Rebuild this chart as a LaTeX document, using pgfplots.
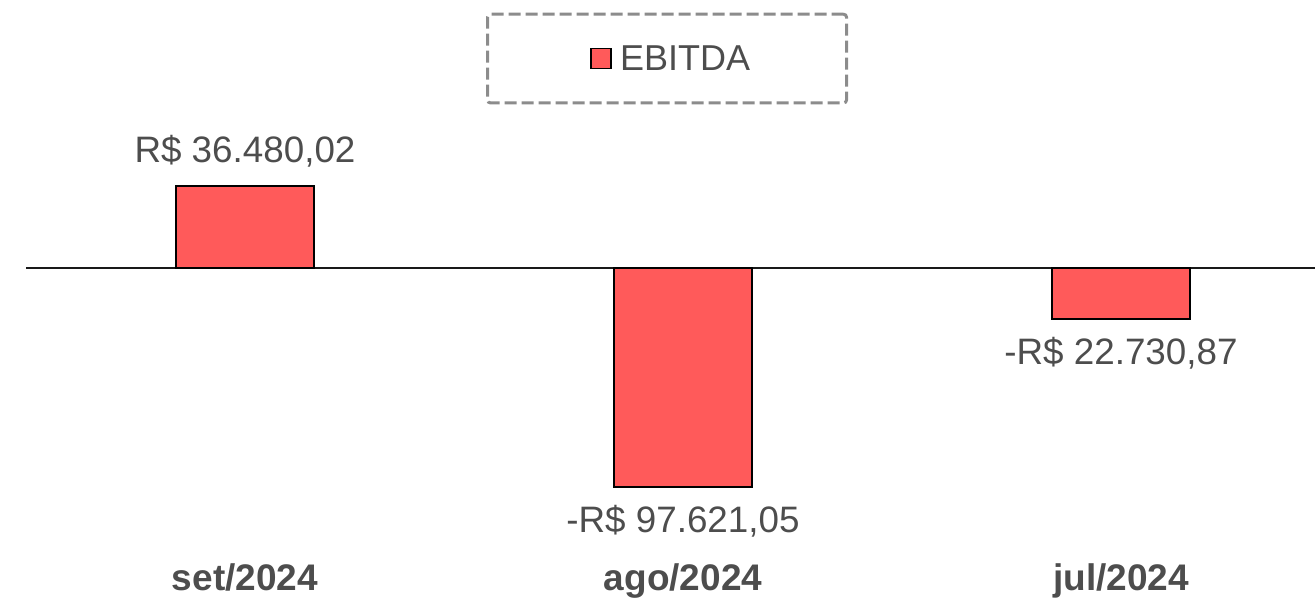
\documentclass[border=0pt]{standalone}
\usepackage{pgfplots}
\usepackage{pgfplotstable}
\pgfplotsset{compat=1.18}
\usepackage{fontspec}
\setmainfont{Liberation Sans}
\definecolor{barred}{HTML}{FF5A5A}
\definecolor{txt}{HTML}{4D4D4D}
\definecolor{lgd}{HTML}{8C8C8C}

\pgfplotstableread{
x y label
0 36480.02 {R\$ 36.480,02}
1 -97621.05 {-R\$ 97.621,05}
2 -22730.87 {-R\$ 22.730,87}
}\datatable

\begin{document}
\begin{tikzpicture}[x=1bp,y=1bp]
\useasboundingbox (0,0) rectangle (1315,598);
\begin{axis}[
  at={(26bp,0bp)}, anchor=south west,
  scale only axis, width=1289bp, height=598bp,
  xmin=-0.5, xmax=2.443, ymin=-147180, ymax=119528,
  ybar, bar width=138bp,
  axis line style={draw=none},
  major tick length=0pt,
  ytick=\empty,
  extra y ticks={0},
  extra y tick labels={},
  extra y tick style={grid=major, major grid style={black!90, line width=1.5bp}},
  xtick={0,1,2},
  xticklabels={set/2024, ago/2024, jul/2024},
  x tick label style={font=\fontsize{37bp}{44bp}\selectfont\bfseries, text=txt, anchor=base, yshift=7bp},
  clip=false,
  legend style={at={(0.4973,0.902)}, anchor=center, draw=lgd, dash pattern=on 12bp off 5bp,
    line width=3bp, rounded corners=3bp, fill=none, inner xsep=96.5bp, inner ysep=32bp,
    font=\fontsize{36bp}{43bp}\selectfont, text=txt,
    nodes={inner sep=0bp, text depth=0pt, solid}},
  legend image code/.code={
    \draw[fill=barred, draw=black, line width=1.5bp, solid, sharp corners] (6bp,-10bp) rectangle (26bp,10bp);
    \path (0bp,0bp) (34bp,0bp);
  },
]
\addplot[fill=barred, draw=black, line width=2bp,
  nodes near coords, point meta=explicit symbolic,
  visualization depends on={rawy/1000 \as \ysc},
  every node near coord/.append style={font=\fontsize{36.8bp}{44bp}\selectfont, text=txt,
    inner sep=0bp, text height=45bp, text depth=23bp},
  every node near coord/.append code={%
    \ifdim\ysc pt<0pt \pgfkeysalso{anchor=north}\else\pgfkeysalso{anchor=south}\fi}]
  table[x=x, y=y, meta=label] {\datatable};
\addlegendentry{EBITDA}
\end{axis}
\end{tikzpicture}
\end{document}
